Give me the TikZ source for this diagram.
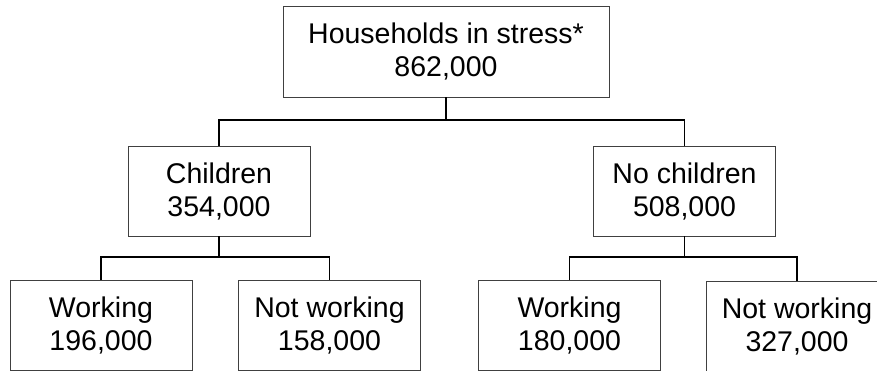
\documentclass[tikz,border=0pt]{standalone}
\usepackage{fontspec}
\setmainfont{Liberation Sans}
\usepackage{tikz}
\usetikzlibrary{positioning,calc}
\tikzset{
    stress/.style={draw=black!75, line width=0.9pt, rectangle, minimum width=326pt, minimum height=91pt, align=center, inner sep=0pt, font=\fontsize{28.5}{33}\selectfont},
    group/.style={draw=black!75, line width=0.9pt, rectangle, minimum width=182pt, minimum height=90pt, align=center, inner sep=0pt, font=\fontsize{28.5}{33}\selectfont},
    link/.style={draw, line width=1.6pt, black}
}

\begin{document}
\begin{tikzpicture}[x=1pt, y=-1pt]
    \useasboundingbox (0,0) rectangle (877,371);

    \node[stress] (top) at (446,51.5) {Households in stress*\\862,000};

    \node[group] (kids) at (219,191) {Children\\354,000};
    \node[group] (nokids) at (684.5,191) {No children\\508,000};

    \node[group] (kidswork) at (101,325) {Working\\196,000};
    \node[group] (kidsnowork) at (329.5,325.5) {Not working\\158,000};
    \node[group] (nokidswork) at (569.5,325.5) {Working\\180,000};
    \node[group] (nokidsnowork) at (797,326.5) {Not working\\327,000};

    \coordinate (bartop) at (446,120);
    \coordinate (barkids) at (219,257);
    \coordinate (barnokids) at (684.5,257);

    \draw[link] (top.south) -- (bartop);
    \draw[link] (kids.north) |- (bartop) -| (nokids.north);

    \draw[link] (kids.south) -- (barkids);
    \draw[link] (kidswork.north) |- (barkids) -| (kidsnowork.north);

    \draw[link] (nokids.south) -- (barnokids);
    \draw[link] (nokidswork.north) |- (barnokids) -| (nokidsnowork.north);
\end{tikzpicture}
\end{document}
